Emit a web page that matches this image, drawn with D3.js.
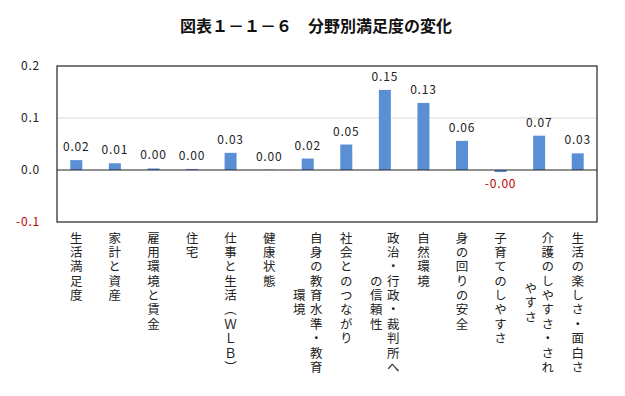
<!DOCTYPE html>
<html>
<head>
<meta charset="utf-8">
<script src="https://cdn.jsdelivr.net/npm/d3@7.9.0/dist/d3.min.js"></script>
<style>
  body { margin: 0; background: #fff; }
  svg { display: block; font-family: "Noto Sans CJK JP", sans-serif; }
  .vlab { writing-mode: vertical-rl; text-orientation: upright; }
</style>
</head>
<body>
<svg width="625" height="396"></svg>
<script>
// categories, each as lines of vertical text
const categories = [
  ["生活満足度"],
  ["家計と資産"],
  ["雇用環境と賃金"],
  ["住宅"],
  ["仕事と生活（ＷＬＢ）"],
  ["健康状態"],
  ["自身の教育水準・教育", "環境"],
  ["社会とのつながり"],
  ["政治・行政・裁判所へ", "の信頼性"],
  ["自然環境"],
  ["身の回りの安全"],
  ["子育てのしやすさ"],
  ["介護のしやすさ・され", "やすさ"],
  ["生活の楽しさ・面白さ"]
];
const values = [0.019, 0.013, 0.003, 0.002, 0.033, 0.0005, 0.022, 0.049, 0.154, 0.129, 0.056, -0.004, 0.066, 0.032];
const yTicks = [-0.1, 0.0, 0.1, 0.2];

const svg = d3.select("svg");
const plot = { left: 57, right: 597, top: 66, bottom: 222 };

svg.append("text")
  .attr("x", 316)
  .attr("y", 32)
  .attr("text-anchor", "middle")
  .attr("font-size", 16)
  .attr("font-weight", "bold")
  .attr("fill", "#111")
  .text("図表１－１－６　分野別満足度の変化");

const x = d3.scaleBand()
  .domain(d3.range(categories.length))
  .range([plot.left, plot.right]);

const y = d3.scaleLinear()
  .domain([-0.1, 0.2])
  .range([plot.bottom, plot.top]);

// gridline
svg.append("g")
  .selectAll("line")
  .data(yTicks.filter(d => d === 0.1))
  .join("line")
  .attr("x1", plot.left)
  .attr("x2", plot.right)
  .attr("y1", d => y(d))
  .attr("y2", d => y(d))
  .attr("stroke", "#d9d9d9");

// tick labels
svg.append("g")
  .selectAll("text")
  .data(yTicks)
  .join("text")
  .attr("x", 40)
  .attr("y", d => y(d))
  .attr("dy", "0.35em")
  .attr("text-anchor", "end")
  .attr("font-size", 12)
  .attr("letter-spacing", 0.8)
  .attr("fill", d => d < 0 ? "#c00000" : "#222")
  .text(d => d.toFixed(1));

// bars
const barW = 12;
svg.append("g")
  .selectAll("rect")
  .data(values)
  .join("rect")
  .attr("x", (d, i) => x(i) + x.bandwidth() / 2 - barW / 2)
  .attr("y", d => y(Math.max(0, d)))
  .attr("width", barW)
  .attr("height", d => Math.abs(y(d) - y(0)))
  .attr("fill", "#5b8fd5");

// zero line
svg.append("line")
  .attr("x1", plot.left)
  .attr("x2", plot.right)
  .attr("y1", y(0))
  .attr("y2", y(0))
  .attr("stroke", "#222")
  .attr("stroke-width", 1.2);

// plot border
svg.append("rect")
  .attr("x", plot.left)
  .attr("y", plot.top)
  .attr("width", plot.right - plot.left)
  .attr("height", plot.bottom - plot.top)
  .attr("fill", "none")
  .attr("stroke", "#222")
  .attr("stroke-width", 1.2);

// value labels
svg.append("g")
  .selectAll("text")
  .data(values)
  .join("text")
  .attr("x", (d, i) => x(i) + x.bandwidth() / 2)
  .attr("y", d => d < 0 ? y(d) + 16 : y(d) - 9)
  .attr("text-anchor", "middle")
  .attr("font-size", 12)
  .attr("letter-spacing", 0.8)
  .attr("fill", d => d < 0 ? "#c00000" : "#222")
  .text(d => d.toFixed(2));

// vertical category labels, lines centred against the longest one
const fs = 12.5, pitch = 14.4, colGap = 17, top0 = 231.5;
const catG = svg.append("g").attr("font-size", fs).attr("fill", "#222");
categories.forEach((lines, i) => {
  const cx = x(i) + x.bandwidth() / 2;
  const maxLen = d3.max(lines, l => [...l].length);
  catG.selectAll(null)
    .data(lines)
    .join("text")
    .attr("class", "vlab")
    .attr("x", (l, li) => cx + (lines.length - 1) / 2 * colGap - li * colGap)
    .attr("y", l => top0 + (maxLen - [...l].length) / 2 * pitch)
    .attr("letter-spacing", pitch - fs)
    .text(l => l);
});
</script>
</body>
</html>
